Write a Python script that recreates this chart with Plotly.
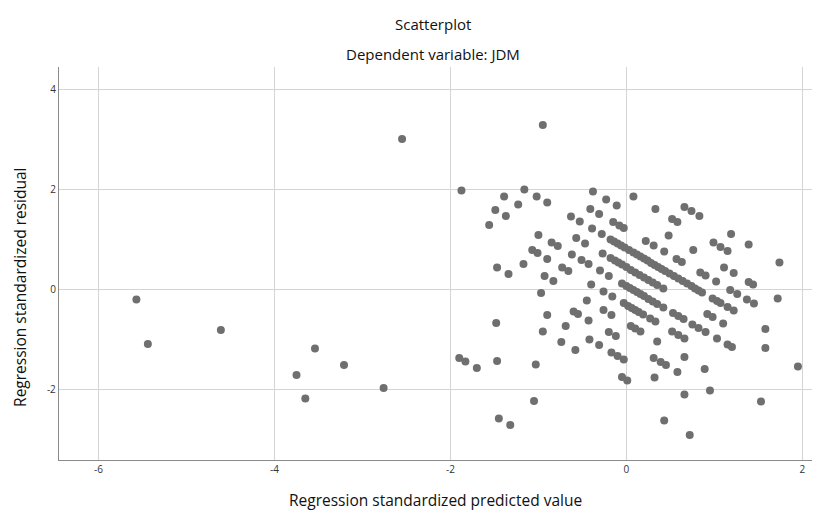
import plotly.graph_objects as go

# Regression standardized predicted value (x) and residual (y)
pred = [
    -0.95, 0.66, 0.74, 0.83, 1.19, 1.39, 1.74,
    0.08, 0.33, 0.52, 0.58, 0.99, 1.07, 1.15,
    -0.38, -0.23, -0.11, 0.48, 0.76, 1.11, 1.22, 1.39, 1.44, 1.72,
    -0.41, -0.31, -0.15, -0.08, -0.03, 0.22, 0.31, 0.43, 0.57, 0.63, 0.84, 0.90, 1.02, 1.18, 1.26, 1.37, 1.45,
    -1.16, -1.02, -0.90, -0.63, -0.53, -0.39, -0.28, -0.18, -0.14, -0.10, -0.06, -0.02, 0.03, 0.08, 0.12,
    0.16, 0.20, 0.24, 0.28, 0.32, 0.36, 0.40, 0.44, 0.49, 0.54, 0.59, 0.64, 0.69, 0.74, 0.78, 0.82, 0.86,
    0.98, 1.03, 1.07, 1.15, 1.22, 1.58,
    -1.39, -1.23, -0.57, -0.47, -0.27, -0.18, -0.13, -0.09, -0.05, 0.00, 0.05, 0.10, 0.15, 0.20, 0.25,
    0.30, 0.35, 0.42, 0.92, 0.98, 1.10, 1.58, 1.95,
    -1.875, -1.49, -1.37, -1.00, -0.85, -0.78, -0.62, -0.51, -0.43, -0.30, -0.20, -0.05, 0.00, 0.04, 0.08,
    0.12, 0.16, 0.20, 0.25, 0.30, 0.35, 0.42, 0.53, 0.59, 0.65, 0.75, 0.82, 0.90, 1.03, 1.15, 1.20,
    -1.56, -1.07, -1.01, -0.90, -0.73, -0.66, -0.40, -0.26, -0.16, -0.03, 0.02, 0.06, 0.10, 0.14, 0.19,
    0.27, 0.33, 0.52, 0.59, 0.66,
    -1.17, -0.93, -0.83, -0.45, -0.26, -0.17, 0.05, 0.10, 0.16, 0.35, 0.66, 0.89, 1.53,
    -1.47, -1.34, -0.97, -0.60, -0.55, -0.43, -0.20, -0.12, 0.31, 0.39, 0.45, 0.58, 0.95,
    -0.90, -0.69, -0.42, -0.31, -0.17, -0.10, -0.03, 0.32, 0.66,
    -0.95, -0.74, -0.58, -0.05, 0.01,
    -1.48, 0.43, 0.72,
    -1.03, -1.47,
    -1.90, -1.83, -1.70, -1.05,
    -1.45, -1.32,
    # far-left outliers
    -5.57, -5.44, -4.61, -3.54, -3.21, -3.75, -3.65, -2.76, -2.55,
]

resid = [
    3.28, 1.64, 1.56, 1.46, 1.10, 0.89, 0.53,
    1.85, 1.60, 1.40, 1.34, 0.93, 0.84, 0.76,
    1.95, 1.79, 1.67, 1.07, 0.78, 0.43, 0.32, 0.14, 0.09, -0.19,
    1.60, 1.50, 1.34, 1.27, 1.22, 0.96, 0.87, 0.75, 0.60, 0.54, 0.33, 0.27, 0.15, -0.02, -0.10, -0.21, -0.29,
    1.99, 1.85, 1.73, 1.45, 1.35, 1.21, 1.10, 0.99, 0.95, 0.91, 0.87, 0.83, 0.78, 0.73, 0.69,
    0.65, 0.61, 0.57, 0.52, 0.48, 0.44, 0.40, 0.36, 0.31, 0.26, 0.21, 0.16, 0.11, 0.06, 0.01, -0.03, -0.07,
    -0.19, -0.24, -0.28, -0.36, -0.43, -0.80,
    1.85, 1.69, 1.02, 0.91, 0.71, 0.62, 0.57, 0.53, 0.49, 0.44, 0.38, 0.33, 0.28, 0.23, 0.18,
    0.13, 0.08, 0.01, -0.50, -0.56, -0.69, -1.18, -1.55,
    1.97, 1.58, 1.46, 1.08, 0.93, 0.86, 0.69, 0.58, 0.50, 0.37, 0.26, 0.11, 0.06, 0.02, -0.02,
    -0.06, -0.10, -0.14, -0.20, -0.25, -0.30, -0.37, -0.48, -0.54, -0.60, -0.71, -0.78, -0.86, -0.99, -1.11, -1.16,
    1.28, 0.78, 0.72, 0.60, 0.43, 0.36, 0.09, -0.05, -0.15, -0.28, -0.34, -0.38, -0.42, -0.46, -0.51,
    -0.59, -0.65, -0.85, -0.92, -0.99,
    0.50, 0.26, 0.16, -0.23, -0.42, -0.52, -0.74, -0.79, -0.85, -1.05, -1.36, -1.60, -2.25,
    0.43, 0.30, -0.08, -0.45, -0.50, -0.63, -0.86, -0.94, -1.38, -1.46, -1.52, -1.66, -2.03,
    -0.52, -0.74, -1.01, -1.12, -1.27, -1.34, -1.41, -1.77, -2.11,
    -0.85, -1.06, -1.22, -1.76, -1.83,
    -0.68, -2.63, -2.92,
    -1.51, -1.44,
    -1.38, -1.45, -1.58, -2.24,
    -2.59, -2.72,
    -0.21, -1.10, -0.82, -1.19, -1.52, -1.72, -2.19, -1.98, 3.00,
]

x_ticks = [-6, -4, -2, 0, 2]
y_ticks = [-2, 0, 2, 4]

title_text = "Scatterplot"
subtitle_text = "Dependent variable: JDM"
x_title = "Regression standardized predicted value"
y_title = "Regression standardized residual"

FONT = "Open Sans, Noto Sans, DejaVu Sans, sans-serif"

fig = go.Figure()
fig.add_trace(go.Scatter(
    x=pred, y=resid, mode="markers",
    marker=dict(size=8, color="#6f6f6f", line=dict(width=0)),
    hoverinfo="x+y", showlegend=False,
))

axis_common = dict(
    showgrid=True, gridcolor="#d4d4d4", gridwidth=1.3,
    zeroline=False, showline=True, linecolor="#8a8a8a", linewidth=1.3,
    ticks="", tickfont=dict(family=FONT, size=10, color="#333333"),
    mirror=False,
)

# the page adds an 8px body margin, so the figure is sized to fit inside it
fig.update_layout(
    width=821, height=504,
    margin=dict(l=51, r=17, t=59, b=52),
    paper_bgcolor="white", plot_bgcolor="white",
    xaxis=dict(range=[-6.45, 2.11], tickvals=x_ticks, ticktext=[str(v) for v in x_ticks], **axis_common),
    yaxis=dict(range=[-3.42, 4.44], tickvals=y_ticks, ticktext=[str(v) for v in y_ticks], **axis_common),
    annotations=[
        dict(text=title_text, xref="paper", yref="paper", x=0.497, y=1.109, xanchor="center", yanchor="middle",
             showarrow=False, font=dict(family=FONT, size=15, color="#111111")),
        dict(text=subtitle_text, xref="paper", yref="paper", x=0.497, y=1.033, xanchor="center", yanchor="middle",
             showarrow=False, font=dict(family=FONT, size=15, color="#111111")),
        dict(text=x_title, xref="paper", yref="paper", x=0.50, y=-0.102, xanchor="center", yanchor="middle",
             showarrow=False, font=dict(family=FONT, size=15.5, color="#111111")),
        dict(text=y_title, xref="paper", yref="paper", x=-0.052, y=0.44, xanchor="center", yanchor="middle",
             textangle=-90, showarrow=False, font=dict(family=FONT, size=15.5, color="#111111")),
    ],
)

fig.write_html("out.html")
